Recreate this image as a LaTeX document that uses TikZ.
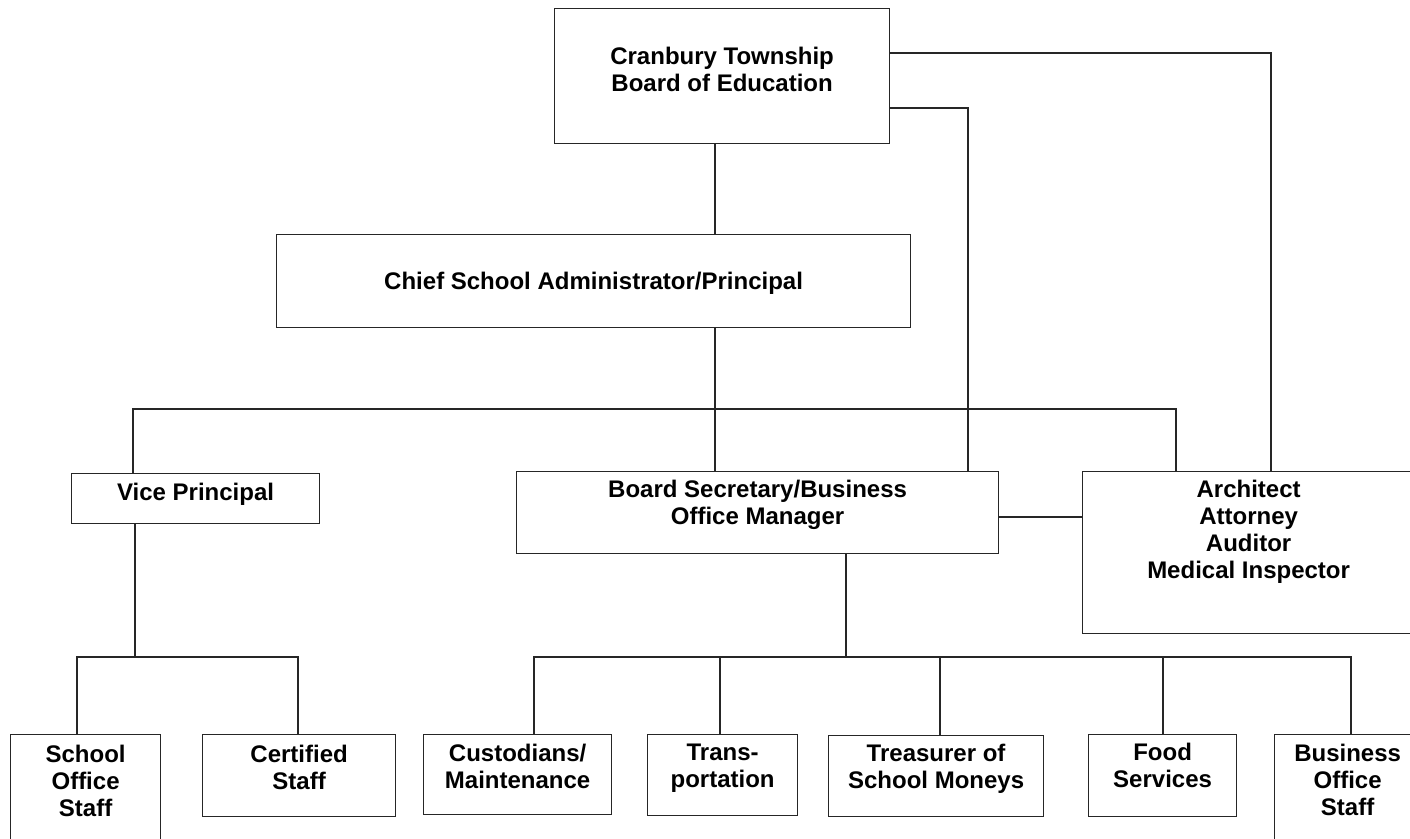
\documentclass[tikz,border=0pt]{standalone}
\usepackage{fontspec}
\setmainfont{Liberation Sans}
\usetikzlibrary{positioning}

\begin{document}
\begin{tikzpicture}[x=1pt, y=-1pt,
	unit/.style={draw=black!85, line width=1.2pt, inner sep=0pt, anchor=north west},
	txt/.style={font=\bfseries\fontsize{24}{27}\selectfont, align=center, inner sep=0pt},
	wire/.style={draw=black!85, line width=1.2pt}]
%		\draw [help lines, step=50] (0,0) grid (1410,838);
		\useasboundingbox (0,0) rectangle (1410,838);
		% boxes
		\node [unit, minimum width=335pt, minimum height=135pt] (board) at (554,8) {};
		\node [txt, below=39pt of board.north] (boardtxt) {Cranbury Township\\Board of Education};
		\node [unit, minimum width=634pt, minimum height=93pt] (chief) at (276,234) {};
		\node [txt, below=38pt of chief.north] (chieftxt) {Chief School Administrator/Principal};
		\node [unit, minimum width=248pt, minimum height=50pt] (vice) at (71,473) {};
		\node [txt, below=10pt of vice.north] (vicetxt) {Vice Principal};
		\node [unit, minimum width=482pt, minimum height=82pt] (bsec) at (516,471) {};
		\node [txt, below=9pt of bsec.north] (bsectxt) {Board Secretary/Business\\Office Manager};
		\node [unit, minimum width=332pt, minimum height=162pt] (arch) at (1082,471) {};
		\node [txt, below=9pt of arch.north] (archtxt) {Architect\\Attorney\\Auditor\\Medical Inspector};
		\node [unit, minimum width=150pt, minimum height=120pt] (school) at (10,734) {};
		\node [txt, below=11pt of school.north] (schooltxt) {School\\Office\\Staff};
		\node [unit, minimum width=193pt, minimum height=82pt] (cert) at (202,734) {};
		\node [txt, below=11pt of cert.north] (certtxt) {Certified\\Staff};
		\node [unit, minimum width=188pt, minimum height=80pt] (cust) at (423,734) {};
		\node [txt, below=10pt of cust.north] (custtxt) {Custodians/\\Maintenance};
		\node [unit, minimum width=150pt, minimum height=81pt] (trans) at (647,734) {};
		\node [txt, below=10pt of trans.north] (transtxt) {Trans-\\portation};
		\node [unit, minimum width=215pt, minimum height=81pt] (treas) at (828,735) {};
		\node [txt, below=9pt of treas.north] (treastxt) {Treasurer of\\School Moneys};
		\node [unit, minimum width=148pt, minimum height=82pt] (food) at (1088,734) {};
		\node [txt, below=9pt of food.north] (foodtxt) {Food\\Services};
		\node [unit, minimum width=146pt, minimum height=120pt] (biz) at (1274,734) {};
		\node [txt, below=10pt of biz.north] (biztxt) {Business\\Office\\Staff};
		% junctions
		\coordinate (spine) at (715,409);
		\coordinate (busA) at (133,409);
		\coordinate (busB) at (1176,409);
		\coordinate (tieA) at (1271,53);
		\coordinate (tieB) at (968,108);
		\coordinate (side) at (1040,517);
		\coordinate (vdrop) at (135,657);
		\coordinate (vbusL) at (77,657);
		\coordinate (vbusR) at (298,657);
		\coordinate (bdrop) at (846,657);
		\coordinate (bbusL) at (534,657);
		\coordinate (bbusR) at (1351,657);
		% lines
		\draw [wire] (board.south -| spine) -- (chief.north -| spine);
		\draw [wire] (chief.south -| spine) -- (bsec.north -| spine);
		\draw [wire] (vice.north -| busA) -- (busA) -- (busB) -- (arch.north -| busB);
		\draw [wire] (board.east |- tieA) -- (tieA) -- (arch.north -| tieA);
		\draw [wire] (board.east |- tieB) -- (tieB) -- (bsec.north -| tieB);
		\draw [wire] (bsec.east |- side) -- (arch.west |- side);
		\draw [wire] (vice.south -| vdrop) -- (vdrop);
		\draw [wire] (school.north -| vbusL) -- (vbusL) -- (vbusR) -- (cert.north -| vbusR);
		\draw [wire] (bsec.south -| bdrop) -- (bdrop);
		\draw [wire] (cust.north -| bbusL) -- (bbusL) -- (bbusR) -- (biz.north -| bbusR);
		\foreach \n/\x in {trans/720, treas/940, food/1163}
			\draw [wire] (\x,657) -- (\n.north -| \x,0);
\end{tikzpicture}
\end{document}
